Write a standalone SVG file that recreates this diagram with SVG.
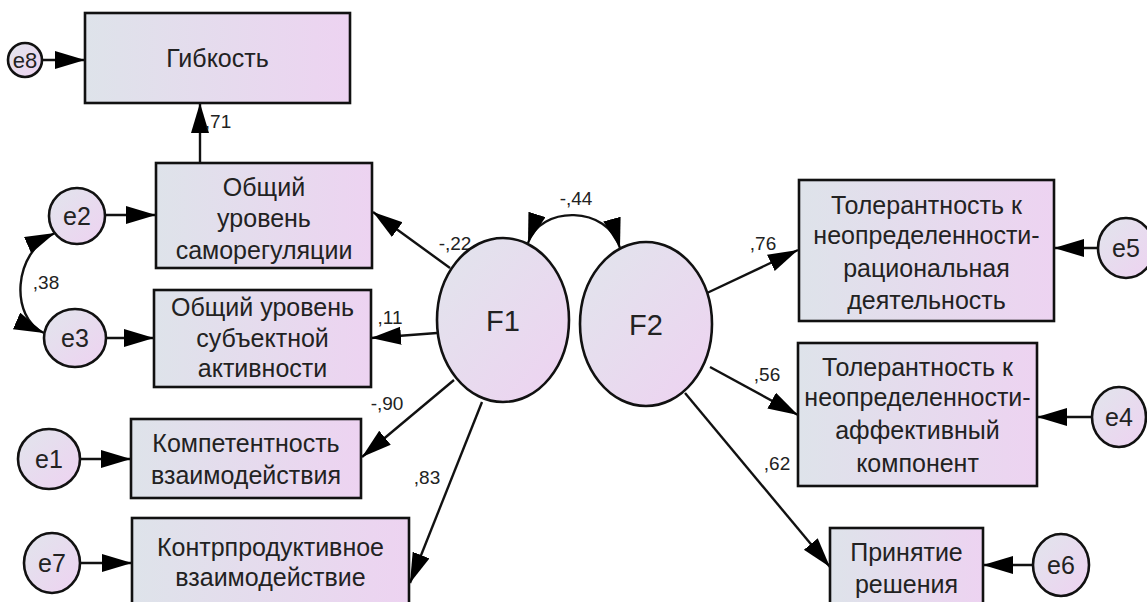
<svg xmlns="http://www.w3.org/2000/svg" width="1147" height="602" viewBox="0 0 1147 602">
<defs>
<linearGradient id="gb" x1="0" y1="0" x2="1" y2="0">
<stop offset="0" stop-color="#dee3ea"/>
<stop offset="1" stop-color="#edd3f1"/>
</linearGradient>
<linearGradient id="ge" x1="0" y1="0" x2="1" y2="1">
<stop offset="0" stop-color="#e1e5ec"/>
<stop offset="1" stop-color="#eed2f1"/>
</linearGradient>
<marker id="ah" markerUnits="userSpaceOnUse" markerWidth="32" markerHeight="20" refX="30" refY="9" orient="auto-start-reverse" viewBox="0 0 32 20">
<path d="M0,0 L30,9 L0,18 z" fill="#000"/>
</marker>
<style>
.box{fill:url(#gb);stroke:#111;stroke-width:2.6}
.el{fill:url(#ge);stroke:#111;stroke-width:2.6}
.t{font-family:"Liberation Sans",Arial,sans-serif;font-size:25px;fill:#222;text-anchor:middle}
.f{font-family:"Liberation Sans",Arial,sans-serif;font-size:29px;fill:#222;text-anchor:middle}
.n{font-family:"Liberation Sans",Arial,sans-serif;font-size:19px;fill:#222;text-anchor:middle}
.c{fill:none;stroke:#111;stroke-width:2.4}
.a{marker-end:url(#ah)}
.aa{marker-start:url(#ah);marker-end:url(#ah)}
</style>
</defs>

<g id="connectors">
<path class="c a" d="M43,60 L85,60"/>
<path class="c a" d="M200,163 L200,103"/>
<path class="c a" d="M105,215 L156,215"/>
<path class="c a" d="M107,338 L154,338"/>
<path class="c a" d="M80,459 L131,459"/>
<path class="c a" d="M81,563 L132,563"/>
<path class="c a" d="M450,268 L373,212"/>
<path class="c a" d="M437,333 L371,338"/>
<path class="c a" d="M454,380 L362,457"/>
<path class="c a" d="M482,402 L410,583"/>
<path class="c a" d="M707,293 L798,250"/>
<path class="c a" d="M710,367 L798,415"/>
<path class="c a" d="M685,393 L830,567"/>
<path class="c a" d="M1098,248 L1054,248"/>
<path class="c a" d="M1092,417 L1037,417"/>
<path class="c a" d="M1034,565 L983,565"/>
<path class="c aa" d="M528,243 C540,205 608,205 620,248"/>
<path class="c aa" d="M55,233 C12,252 10,318 44,333"/>
<text class="n" x="218" y="128">,71</text>
<text class="n" x="46" y="289">,38</text>
<text class="n" x="576" y="205">-,44</text>
<text class="n" x="455" y="250">-,22</text>
<text class="n" x="390" y="324">,11</text>
<text class="n" x="387" y="410">-,90</text>
<text class="n" x="427" y="484">,83</text>
<text class="n" x="763" y="250">,76</text>
<text class="n" x="767" y="381">,56</text>
<text class="n" x="777" y="470">,62</text>
</g>

<g id="gibkost">
<rect class="box" x="85" y="13" width="265" height="90"/>
<text class="t" x="217.5" y="67">Гибкость</text>
</g>
<g id="e8">
<circle class="el" cx="25" cy="60" r="17"/>
<text class="t" x="25" y="68" style="font-size:22px">e8</text>
</g>
<g id="samoreg">
<rect class="box" x="156" y="163" width="216" height="105"/>
<text class="t" x="264" y="196">Общий</text>
<text class="t" x="264" y="227">уровень</text>
<text class="t" x="264" y="259">саморегуляции</text>
</g>
<g id="e2">
<circle class="el" cx="77" cy="216" r="28"/>
<text class="t" x="77" y="225">e2</text>
</g>
<g id="subakt">
<rect class="box" x="154" y="290" width="217" height="97"/>
<text class="t" x="262.5" y="316">Общий уровень</text>
<text class="t" x="262.5" y="347">субъектной</text>
<text class="t" x="262.5" y="377">активности</text>
</g>
<g id="e3">
<ellipse class="el" cx="75" cy="338" rx="31" ry="29"/>
<text class="t" x="75" y="347">e3</text>
</g>
<g id="komp">
<rect class="box" x="131" y="419" width="230" height="79"/>
<text class="t" x="246" y="452">Компетентность</text>
<text class="t" x="246" y="484">взаимодействия</text>
</g>
<g id="e1">
<ellipse class="el" cx="49" cy="459" rx="31" ry="30"/>
<text class="t" x="49" y="468">e1</text>
</g>
<g id="kontr">
<rect class="box" x="132" y="518" width="277" height="100"/>
<text class="t" x="270.5" y="556">Контрпродуктивное</text>
<text class="t" x="270.5" y="586">взаимодействие</text>
</g>
<g id="e7">
<ellipse class="el" cx="52" cy="563" rx="28" ry="30"/>
<text class="t" x="52" y="572">e7</text>
</g>
<g id="F1">
<ellipse class="el" cx="503" cy="320" rx="66" ry="82"/>
<text class="f" x="503" y="331">F1</text>
</g>
<g id="F2">
<ellipse class="el" cx="646" cy="324" rx="66" ry="82"/>
<text class="f" x="646" y="335">F2</text>
</g>
<g id="tol1">
<rect class="box" x="799" y="180" width="255" height="141"/>
<text class="t" x="926.5" y="214">Толерантность к</text>
<text class="t" x="926.5" y="244">неопределенности-</text>
<text class="t" x="926.5" y="277">рациональная</text>
<text class="t" x="926.5" y="309">деятельность</text>
</g>
<g id="e5">
<ellipse class="el" cx="1126" cy="248" rx="28" ry="30"/>
<text class="t" x="1126" y="257">e5</text>
</g>
<g id="tol2">
<rect class="box" x="798" y="343" width="239" height="143"/>
<text class="t" x="917.5" y="376">Толерантность к</text>
<text class="t" x="917.5" y="406">неопределенности-</text>
<text class="t" x="917.5" y="439">аффективный</text>
<text class="t" x="917.5" y="472">компонент</text>
</g>
<g id="e4">
<ellipse class="el" cx="1119" cy="417" rx="27" ry="30"/>
<text class="t" x="1119" y="426">e4</text>
</g>
<g id="prin">
<rect class="box" x="830" y="528" width="153" height="90"/>
<text class="t" x="906.5" y="561">Принятие</text>
<text class="t" x="906.5" y="593">решения</text>
</g>
<g id="e6">
<ellipse class="el" cx="1061" cy="565" rx="28" ry="31"/>
<text class="t" x="1061" y="574">e6</text>
</g>
</svg>
